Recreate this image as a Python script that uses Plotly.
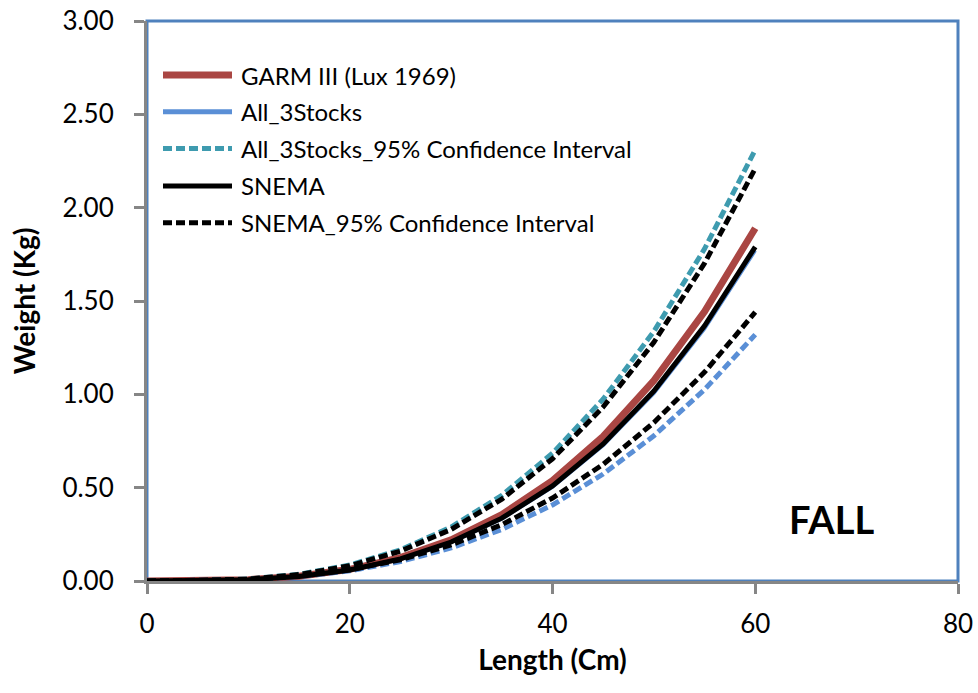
import plotly.graph_objects as go

# ---- data ----
length_cm = [0, 5, 10, 15, 20, 25, 30, 35, 40, 45, 50, 55, 60]

garm_lux1969 = [0.0, 0.0009, 0.0073, 0.0257, 0.0627, 0.1253, 0.2204, 0.3555, 0.5377, 0.7747, 1.0741, 1.4432, 1.89]
all_3stocks = [0.0, 0.0008, 0.0068, 0.0241, 0.0588, 0.1174, 0.2064, 0.3329, 0.5036, 0.7255, 1.0059, 1.3516, 1.77]
all_3stocks_ci_upper = [0.0, 0.0013, 0.0107, 0.0361, 0.0856, 0.1671, 0.2888, 0.4585, 0.6844, 0.9746, 1.3368, 1.7794, 2.31]
all_3stocks_ci_lower = [0.0, 0.0010, 0.0073, 0.0237, 0.0546, 0.1042, 0.1769, 0.2765, 0.4074, 0.5731, 0.7779, 1.0258, 1.32]
snema = [0.0, 0.0008, 0.0069, 0.0243, 0.0594, 0.1187, 0.2087, 0.3367, 0.5093, 0.7337, 1.0173, 1.3668, 1.79]
snema_ci_upper = [0.0, 0.0013, 0.0102, 0.0345, 0.0819, 0.1599, 0.2763, 0.4387, 0.6548, 0.9324, 1.2789, 1.7024, 2.21]
snema_ci_lower = [0.0, 0.0011, 0.0080, 0.0258, 0.0595, 0.1137, 0.1930, 0.3017, 0.4444, 0.6252, 0.8486, 1.1190, 1.44]

legend_labels = [
    "GARM III (Lux 1969)",
    "All_3Stocks",
    "All_3Stocks_95% Confidence Interval",
    "SNEMA",
    "SNEMA_95% Confidence Interval",
]
x_ticks = [0, 20, 40, 60, 80]
y_ticks = [0.0, 0.5, 1.0, 1.5, 2.0, 2.5, 3.0]

# ---- styles ----
RED = "#AA4643"
BLUE = "#5A8FD6"
TEAL = "#3E9BAF"
BLACK = "#000000"
GRAY = "#868686"
BORDER = "#4F81BD"
DASH = "9px,4px"
FONT = "Lato"

fig = go.Figure()

series = [
    (garm_lux1969, legend_labels[0], RED, 7, "solid", "g1"),
    (all_3stocks, legend_labels[1], BLUE, 3.5, "solid", "g2"),
    (all_3stocks_ci_upper, legend_labels[2], TEAL, 5, DASH, "g3"),
    (all_3stocks_ci_lower, legend_labels[2], BLUE, 5, DASH, "g3"),
    (snema, legend_labels[3], BLACK, 5, "solid", "g4"),
    (snema_ci_upper, legend_labels[4], BLACK, 5, DASH, "g5"),
    (snema_ci_lower, legend_labels[4], BLACK, 5, DASH, "g5"),
]
for ys, name, color, width, dash, grp in series:
    fig.add_trace(go.Scatter(
        x=length_cm, y=ys, mode="lines", name=name,
        line=dict(color=color, width=width, dash=dash),
        legendgroup=grp, showlegend=False,
    ))

# ---- legend drawn in the top-left of the plot area ----
# plot area on screen: x 147..958, y 21..581
L_PX, T_PX, W_PX, H_PX = 147, 21, 811, 560
def px_x(p):
    return (p - L_PX) / W_PX
def px_y(p):
    return (T_PX + H_PX - p) / H_PX

legend_styles = [
    (RED, 7, "solid"),
    (BLUE, 5, "solid"),
    (TEAL, 5, DASH),
    (BLACK, 5, "solid"),
    (BLACK, 5, DASH),
]
legend_rows_px = [75, 111.7, 148.5, 186, 222.7]
for label, (color, width, dash), ypx in zip(legend_labels, legend_styles, legend_rows_px):
    fig.add_shape(type="line", xref="paper", yref="paper",
                  x0=px_x(163), x1=px_x(232), y0=px_y(ypx), y1=px_y(ypx),
                  line=dict(color=color, width=width, dash=dash))
    fig.add_annotation(xref="paper", yref="paper", x=px_x(239), y=px_y(ypx),
                       text=label, showarrow=False, xanchor="left", yanchor="middle",
                       font=dict(family=FONT, size=24, color="#000000"))

# blue frame (top/right visible)
fig.add_shape(type="rect", xref="paper", yref="paper", x0=0, x1=1, y0=0, y1=1,
              line=dict(color=BORDER, width=3), layer="below")

fig.add_annotation(x=67.5, y=0.33, xref="x", yref="y", text="<b>FALL</b>",
                   showarrow=False, font=dict(family=FONT, size=38, color="#000000"))

fig.update_layout(
    width=978, height=693,
    margin=dict(l=147, r=20, t=21, b=112, autoexpand=False),
    paper_bgcolor="white", plot_bgcolor="white",
    showlegend=False,
    font=dict(family=FONT, color="#000000"),
)
fig.update_xaxes(
    range=[0, 80], tickvals=x_ticks, ticktext=[str(v) for v in x_ticks],
    showgrid=False, zeroline=False, automargin=False,
    showline=True, linecolor=GRAY, linewidth=3,
    ticks="outside", ticklen=10, tickwidth=3, tickcolor=GRAY,
    tickfont=dict(family=FONT, size=26, color="#000000"),
    ticklabelstandoff=8, ticklabeloverflow="allow",
    title=dict(text="<b>Length (Cm)</b>", font=dict(family=FONT, size=28, color="#000000"), standoff=13),
)
fig.update_yaxes(
    range=[0, 3], tickvals=y_ticks, ticktext=[f"{v:.2f}" for v in y_ticks],
    showgrid=False, zeroline=False, automargin=False,
    showline=True, linecolor=GRAY, linewidth=3,
    ticks="outside", ticklen=10, tickwidth=3, tickcolor=GRAY,
    tickfont=dict(family=FONT, size=26, color="#000000"),
    ticklabelstandoff=15, ticklabeloverflow="allow",
    title=dict(text="<b>Weight (Kg)</b>", font=dict(family=FONT, size=28, color="#000000"), standoff=19),
)

# remove the default page margin so the figure fills the window exactly
fig.write_html("out.html", config={"displayModeBar": False},
               post_script="document.body.style.margin='0';")
